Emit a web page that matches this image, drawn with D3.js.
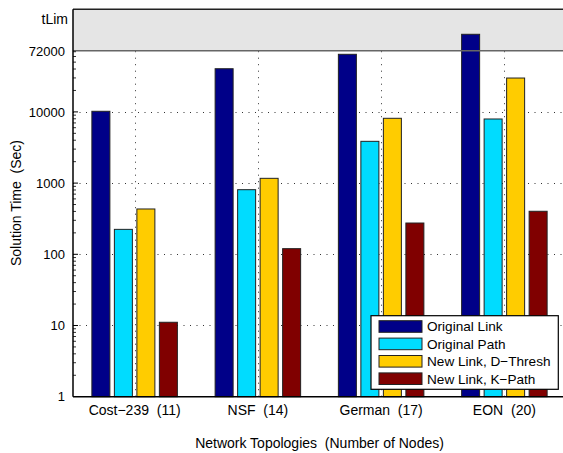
<!DOCTYPE html>
<html>
<head>
<meta charset="utf-8">
<script src="https://cdn.jsdelivr.net/npm/d3@7"></script>
<style>
  body { margin: 0; background: #fff; }
  svg text { font-family: "Liberation Sans", Arial, sans-serif; fill: #000; }
</style>
</head>
<body>
<svg id="chart" width="563" height="453"></svg>
<script>
// data
var topologies = ["Cost\u2212239  (11)", "NSF  (14)", "German  (17)", "EON  (20)"];
var seriesNames = ["Original Link", "Original Path", "New Link, D\u2212Thresh", "New Link, K\u2212Path"];
var seriesColors = ["#000088", "#00dcff", "#ffcc00", "#800000"];
var originalLink = [10200, 40400, 64400, 123000];
var originalPath = [224, 808, 3860, 7950];
var newLinkDThresh = [433, 1167, 8130, 29900];
var newLinkKPath = [11.1, 120, 275, 402];
var majorTicks = [1, 10, 100, 1000, 10000, 72000];
var gridTicks = [10, 100, 1000, 10000];
var timeLimit = 72000;
var tLimTick = 200000;
var yTop = 276000;

var allSeries = [originalLink, originalPath, newLinkDThresh, newLinkKPath];

var svg = d3.select("#chart");
var plotLeft = 73, plotRight = 566, plotTop = 9.3, plotBottom = 396.7;

var x = d3.scaleLinear().domain([0.5, 4.5]).range([plotLeft, plotRight]);
var y = d3.scaleLog().domain([1, yTop]).range([plotBottom, plotTop]);
var barW = 18, step = 22.5;

var g = svg.append("g");

// time limit band
g.append("rect")
  .attr("x", plotLeft).attr("y", y(yTop))
  .attr("width", plotRight - plotLeft).attr("height", y(timeLimit) - y(yTop))
  .attr("fill", "#e5e5e5");

// grid
g.selectAll(".hgrid").data(gridTicks).enter().append("line")
  .attr("x1", plotLeft).attr("x2", plotRight)
  .attr("y1", d => Math.round(y(d)) + 0.5).attr("y2", d => Math.round(y(d)) + 0.5)
  .attr("stroke", "#333").attr("stroke-dasharray", "1,5.5");
g.selectAll(".vgrid").data(topologies).enter().append("line")
  .attr("x1", (d, i) => Math.round(x(i + 1)) + 0.5).attr("x2", (d, i) => Math.round(x(i + 1)) + 0.5)
  .attr("y1", plotBottom).attr("y2", y(timeLimit))
  .attr("stroke", "#333").attr("stroke-dasharray", "1,5.5");

// bars
allSeries.forEach(function (vals, s) {
  g.selectAll(".bar" + s).data(vals).enter().append("rect")
    .attr("x", (d, i) => x(i + 1) + (s - 1.5) * step - barW / 2)
    .attr("y", d => y(d))
    .attr("width", barW)
    .attr("height", d => plotBottom - y(d))
    .attr("fill", seriesColors[s])
    .attr("stroke", "#222").attr("stroke-width", 1);
});

// band edges
g.append("line").attr("x1", plotLeft).attr("x2", plotRight)
  .attr("y1", y(timeLimit)).attr("y2", y(timeLimit))
  .attr("stroke", "#666").attr("stroke-width", 1.5);
g.append("line").attr("x1", plotLeft).attr("x2", plotRight)
  .attr("y1", plotTop).attr("y2", plotTop)
  .attr("stroke", "#222").attr("stroke-width", 1.5);

// axes lines
g.append("line").attr("x1", plotLeft).attr("x2", plotLeft).attr("y1", plotTop).attr("y2", plotBottom)
  .attr("stroke", "#000").attr("stroke-width", 1.5);
g.append("line").attr("x1", plotLeft).attr("x2", plotRight).attr("y1", plotBottom).attr("y2", plotBottom)
  .attr("stroke", "#000").attr("stroke-width", 1.5);

// y ticks: minor
var minor = [];
for (var e = 0; e < 5; e++) {
  for (var m = 2; m <= 9; m++) {
    var v = m * Math.pow(10, e);
    if (v < timeLimit) minor.push(v);
  }
}
g.selectAll(".minor").data(minor).enter().append("line")
  .attr("x1", plotLeft).attr("x2", plotLeft + 3)
  .attr("y1", d => y(d)).attr("y2", d => y(d))
  .attr("stroke", "#000").attr("stroke-width", 0.8);
g.selectAll(".major").data(gridTicks).enter().append("line")
  .attr("x1", plotLeft).attr("x2", plotLeft + 5)
  .attr("y1", d => y(d)).attr("y2", d => y(d))
  .attr("stroke", "#000").attr("stroke-width", 1);

// y tick labels
g.selectAll(".ylab").data(majorTicks).enter().append("text")
  .attr("x", 65).attr("y", d => y(d))
  .attr("dy", "0.36em").attr("text-anchor", "end")
  .style("font-size", "13px")
  .text(d => d3.format("d")(d));
g.append("text")
  .attr("x", 68).attr("y", y(tLimTick))
  .attr("dy", "0.36em").attr("text-anchor", "end")
  .style("font-size", "14px")
  .text("tLim");

// x tick labels
g.selectAll(".xlab").data(topologies).enter().append("text")
  .attr("x", (d, i) => x(i + 1)).attr("y", 410)
  .attr("dy", "0.36em").attr("text-anchor", "middle")
  .style("font-size", "14px")
  .style("white-space", "pre")
  .text(d => d);

// axis titles
g.append("text")
  .attr("x", (plotLeft + plotRight) / 2).attr("y", 443)
  .attr("dy", "0.36em").attr("text-anchor", "middle")
  .style("font-size", "14px").style("white-space", "pre")
  .text("Network Topologies  (Number of Nodes)");
g.append("text")
  .attr("transform", "translate(16," + ((plotTop + plotBottom) / 2) + ") rotate(-90)")
  .attr("dy", "0.36em").attr("text-anchor", "middle")
  .style("font-size", "14px").style("white-space", "pre")
  .text("Solution Time  (Sec)");

// legend
var lg = g.append("g");
lg.append("rect").attr("x", 371).attr("y", 315.7).attr("width", 187.3).attr("height", 73.6)
  .attr("fill", "#fff").attr("stroke", "#000").attr("stroke-width", 1.2);
seriesNames.forEach(function (name, i) {
  var cy = 326.5 + i * 17.4;
  lg.append("rect").attr("x", 379).attr("y", cy - 5.8).attr("width", 43).attr("height", 11.6)
    .attr("fill", seriesColors[i]).attr("stroke", "#222").attr("stroke-width", 1);
  lg.append("text").attr("x", 427).attr("y", cy).attr("dy", "0.36em")
    .style("font-size", "13.6px").text(name);
});
</script>
</body>
</html>
